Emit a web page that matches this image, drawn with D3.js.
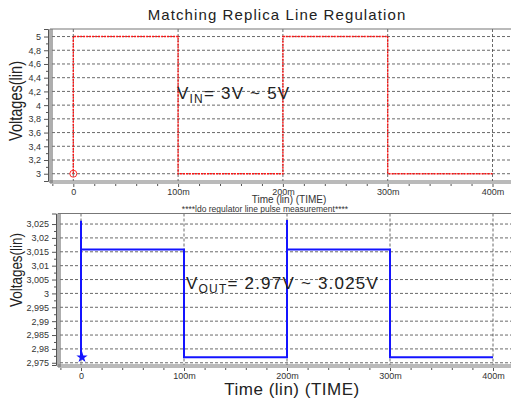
<!DOCTYPE html>
<html>
<head>
<meta charset="utf-8">
<script src="https://cdn.jsdelivr.net/npm/d3@7"></script>
<style>
  body { margin: 0; background: #fff; }
  svg { display: block; font-family: "Liberation Sans", Arial, sans-serif; }
  .tick text { fill: #333; font-size: 9px; }
  .tick line { stroke: #555; }
  .grid { stroke: #444; stroke-width: 0.8; stroke-dasharray: 3,2; fill: none; }
  .frame { stroke: #777; stroke-width: 1.2; fill: none; }
</style>
</head>
<body>
<div id="chart"></div>
<script>
// values
const xTicks = [0, 0.1, 0.2, 0.3, 0.4]
const topYTicks = [3, 3.2, 3.4, 3.6, 3.8, 4, 4.2, 4.4, 4.6, 4.8, 5]
const botYTicks = [2.975, 2.98, 2.985, 2.99, 2.995, 3, 3.005, 3.01, 3.015, 3.02, 3.025]

const vinTime = [0, 0, 0.1, 0.1, 0.2, 0.2, 0.3, 0.3, 0.4]
const vinVolt = [3, 5, 5, 3, 3, 5, 5, 3, 3]

const voutTime = [0, 0, 0, 0.1, 0.1, 0.2, 0.2, 0.2, 0.3, 0.3, 0.4]
const voutVolt = [2.977, 3.0262, 3.0158, 3.0158, 2.977, 2.977, 3.0265, 3.0158, 3.0158, 2.977, 2.977]

const W = 511, H = 399
const locale = d3.formatLocale({ decimal: ",", thousands: ".", grouping: [3], currency: ["", ""] })
const yFmt = v => locale.format("~g")(v)
const xFmt = v => v === 0 ? "0" : Math.round(v * 1000) + "m"

const svg = d3.select("#chart").append("svg")
  .attr("width", W).attr("height", H)

svg.append("text")
  .attr("x", 277).attr("y", 20)
  .attr("text-anchor", "middle")
  .style("font-size", "15px").style("letter-spacing", "1.1px")
  .attr("fill", "#222")
  .text("Matching Replica Line Regulation")

function panel(opt) {
  const g = svg.append("g")
  const x = d3.scaleLinear().domain([0, 0.4]).range(opt.xr)
  const y = d3.scaleLinear().domain(opt.yd).range([opt.bottom, opt.top])

  // grid
  g.selectAll(".hg").data(opt.yTicks).join("line")
    .attr("class", "grid")
    .attr("x1", opt.left + 2).attr("x2", W)
    .attr("y1", d => y(d)).attr("y2", d => y(d))
  g.selectAll(".vg").data(xTicks).join("line")
    .attr("class", "grid")
    .attr("x1", d => x(d)).attr("x2", d => x(d))
    .attr("y1", opt.top).attr("y2", opt.bottom)

  // frame
  g.append("line").attr("class", "frame")
    .attr("x1", opt.left).attr("x2", W).attr("y1", opt.top).attr("y2", opt.top)
  ;[0, 2].forEach(o => {
    g.append("line").attr("class", "frame")
      .attr("x1", opt.left + o).attr("x2", opt.left + o).attr("y1", opt.top).attr("y2", opt.bottom + 2)
    g.append("line").attr("class", "frame")
      .attr("x1", opt.left).attr("x2", W).attr("y1", opt.bottom + o).attr("y2", opt.bottom + o)
  })

  // y axis
  const yAx = g.append("g").attr("transform", `translate(${opt.left - 2},0)`)
    .call(d3.axisLeft(y).tickValues(opt.yTicks).tickSize(4).tickPadding(3).tickFormat(yFmt))
  yAx.select(".domain").attr("stroke", "#555")
  const yMinor = d3.range(opt.yTicks.length - 1).map(i => (opt.yTicks[i] + opt.yTicks[i + 1]) / 2)
  g.append("g").attr("transform", `translate(${opt.left - 2},0)`)
    .call(d3.axisLeft(y).tickValues(yMinor).tickSize(2).tickFormat(""))
    .select(".domain").remove()

  // x axis
  const xAx = g.append("g").attr("transform", `translate(0,${opt.bottom + 3})`)
    .call(d3.axisBottom(x).tickValues(xTicks).tickSize(3).tickPadding(2).tickFormat(xFmt))
  xAx.select(".domain").remove()
  const xMinor = d3.range(0, 21).map(i => i * 0.02).filter((d, i) => i % 5 !== 0)
  g.append("g").attr("transform", `translate(0,${opt.bottom + 3})`)
    .call(d3.axisBottom(x).tickValues(xMinor.concat([-0.02])).tickSize(2).tickFormat(""))
    .select(".domain").remove()

  // y label
  g.append("text")
    .attr("transform", `translate(${opt.ylx},${opt.ylc}) rotate(-90)`)
    .attr("text-anchor", "middle")
    .attr("textLength", opt.ylLen).attr("lengthAdjust", "spacingAndGlyphs")
    .style("font-size", opt.ylSize + "px").attr("fill", "#222")
    .text("Voltages(lin)")

  return { g, x, y }
}

// top panel: VIN
const p1 = panel({
  left: 50, top: 29, bottom: 181, xr: [73.3, 492.5],
  yd: [2.894, 5.11], yTicks: topYTicks,
  ylx: 22, ylc: 101, ylLen: 80, ylSize: 19
})
const vin = vinTime.map((t, i) => [t, vinVolt[i]])
p1.g.append("path")
  .datum(vin)
  .attr("d", d3.line().x(d => p1.x(d[0])).y(d => p1.y(d[1])))
  .attr("fill", "none").attr("stroke", "#ff1010").attr("stroke-width", 1.4)
  .attr("stroke-dasharray", "2,1")
p1.g.append("circle")
  .attr("cx", p1.x(vin[0][0])).attr("cy", p1.y(vin[0][1])).attr("r", 3.5)
  .attr("fill", "none").attr("stroke", "#ff3030").attr("stroke-width", 1)

p1.g.append("text")
  .attr("x", 289).attr("y", 203).attr("text-anchor", "middle")
  .style("font-size", "10px").attr("fill", "#333")
  .text("Time (lin) (TIME)")
svg.append("text")
  .attr("x", 265).attr("y", 211.5).attr("text-anchor", "middle")
  .style("font-size", "8.5px").attr("fill", "#333")
  .text("****ldo regulator line pulse measurement****")

const t1 = p1.g.append("text")
  .attr("x", 177).attr("y", 99)
  .style("font-size", "17px").style("letter-spacing", "1.2px").attr("fill", "#222")
t1.append("tspan").text("V")
t1.append("tspan").attr("dy", 4).style("font-size", "12px").text("IN")
t1.append("tspan").attr("dy", -4).text("= 3V ~ 5V")

// bottom panel: VOUT
const p2 = panel({
  left: 58, top: 213.5, bottom: 365, xr: [81, 493],
  yd: [2.9742, 3.0288], yTicks: botYTicks,
  ylx: 22, ylc: 270, ylLen: 74, ylSize: 17
})
const vout = voutTime.map((t, i) => [t, voutVolt[i]])
p2.g.append("path")
  .datum(vout)
  .attr("d", d3.line().x(d => p2.x(d[0])).y(d => p2.y(d[1])))
  .attr("fill", "none").attr("stroke", "#1414ff").attr("stroke-width", 2)
p2.g.append("path")
  .attr("d", d3.symbol(d3.symbolStar, 40)())
  .attr("transform", `translate(${p2.x(vout[0][0]) + 1},${p2.y(vout[0][1])})`)
  .attr("fill", "#1414ff")

p2.g.append("text")
  .attr("x", 292).attr("y", 395).attr("text-anchor", "middle")
  .style("font-size", "17px").style("letter-spacing", "0.5px").attr("fill", "#222")
  .text("Time (lin) (TIME)")

const t2 = p2.g.append("text")
  .attr("x", 186).attr("y", 289)
  .style("font-size", "17px").style("letter-spacing", "1.2px").attr("fill", "#222")
t2.append("tspan").text("V")
t2.append("tspan").attr("dy", 4).style("font-size", "12px").text("OUT")
t2.append("tspan").attr("dy", -4).text("= 2.97V ~ 3.025V")
</script>
</body>
</html>
